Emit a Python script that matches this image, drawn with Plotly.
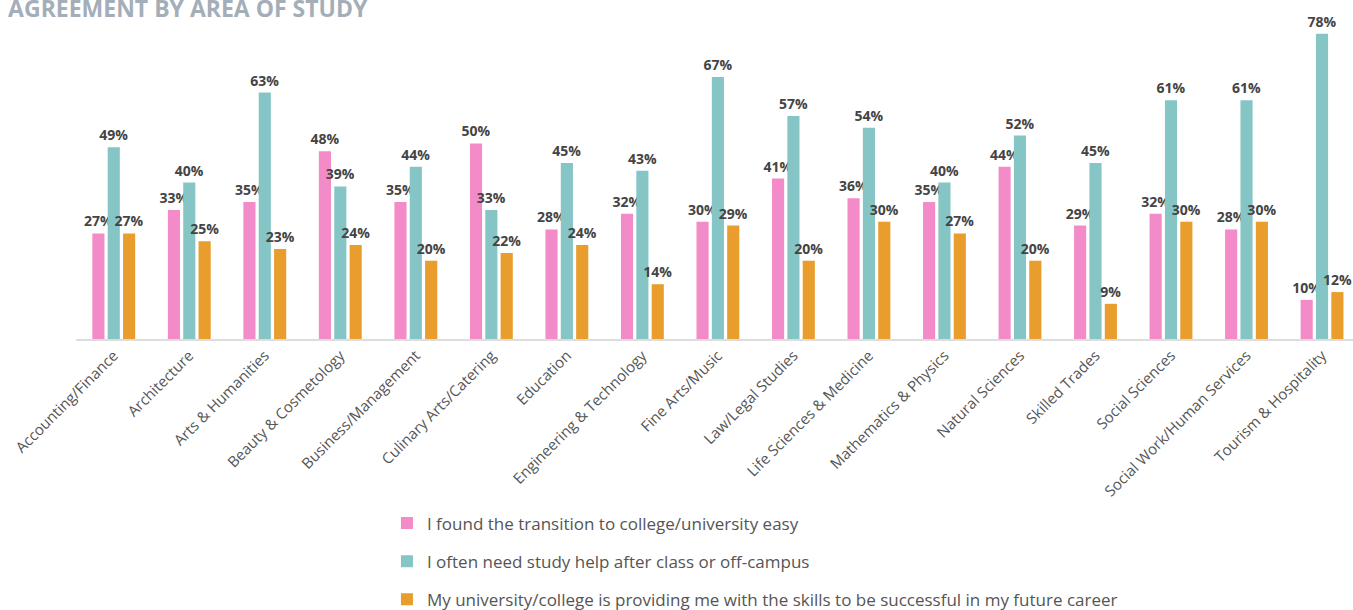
import plotly.graph_objects as go

categories = [
    "Accounting/Finance", "Architecture", "Arts & Humanities", "Beauty & Cosmetology",
    "Business/Management", "Culinary Arts/Catering", "Education", "Engineering & Technology",
    "Fine Arts/Music", "Law/Legal Studies", "Life Sciences & Medicine", "Mathematics & Physics",
    "Natural Sciences", "Skilled Trades", "Social Sciences", "Social Work/Human Services",
    "Tourism & Hospitality",
]
transition_easy = [27, 33, 35, 48, 35, 50, 28, 32, 30, 41, 36, 35, 44, 29, 32, 28, 10]
need_study_help = [49, 40, 63, 39, 44, 33, 45, 43, 67, 57, 54, 40, 52, 45, 61, 61, 78]
skills_for_career = [27, 25, 23, 24, 20, 22, 24, 14, 29, 20, 30, 27, 20, 9, 30, 30, 12]

series_names = [
    "I found the transition to college/university easy",
    "I often need study help after class or off-campus",
    "My university/college is providing me with the skills to be successful in my future career",
]
series_values = [transition_easy, need_study_help, skills_for_career]
colors = ["#f38bc8", "#85c5c6", "#e89d2c"]

fig = go.Figure()
for i, (name, vals, col) in enumerate(zip(series_names, series_values, colors)):
    fig.add_trace(go.Bar(
        x=categories, y=vals, name=name, legendgroup=f"g{i}",
        marker=dict(color=col, line=dict(width=0)),
        text=[f"{v}%" for v in vals], textposition="outside",
        constraintext="none",
        textfont=dict(family="Open Sans", size=14, color="#444444", weight="bold"),
        cliponaxis=False,
    ))

fig.update_layout(
    width=1353, height=610,
    margin=dict(l=76, r=0, t=10, b=271, autoexpand=False),
    paper_bgcolor="white", plot_bgcolor="white",
    barmode="group", bargap=0.39, bargroupgap=0.21,
    title=dict(
        text="AGREEMENT BY AREA OF STUDY", x=0.006, xanchor="left",
        y=0.986, yanchor="middle", yref="container",
        font=dict(family="Open Sans", size=23, color="#a4aeb8", weight="bold"),
    ),
    xaxis=dict(
        range=[-0.5, 16.41], showgrid=False, showline=True, linecolor="#dddddd", linewidth=2,
        ticks="", tickangle=-45, automargin=False,
        tickfont=dict(family="Open Sans", size=15, color="#555555"),
    ),
    yaxis=dict(range=[0, 84.1], visible=False, showgrid=False, zeroline=False, automargin=False),
    showlegend=True,
    legend=dict(
        x=0.2435, xanchor="left", y=0.1713, yanchor="top", yref="container",
        orientation="v", tracegroupgap=13, itemwidth=30,
        font=dict(family="Open Sans", size=17, color="#555555"),
        bgcolor="rgba(0,0,0,0)",
    ),
    font=dict(family="Open Sans"),
)

fig.write_html("out.html")
